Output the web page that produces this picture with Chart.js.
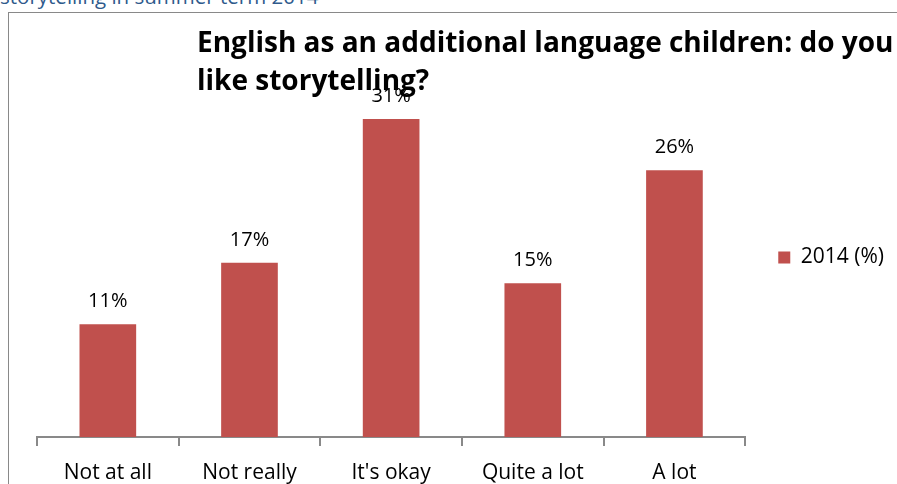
<!DOCTYPE html>
<html>
<head>
<meta charset="utf-8">
<script src="https://cdn.jsdelivr.net/npm/chart.js@4"></script>
<style>
  html, body { margin: 0; padding: 0; background: #fff; overflow: hidden; }
  body { width: 897px; height: 484px; position: relative; }
  #header { position: absolute; left: 0; top: -18px; font: 20.5px "Open Sans", sans-serif; color: #2F5A8C; white-space: nowrap; }
  #frame { position: absolute; left: 8px; top: 12px; width: 1000px; height: 600px; border: 1px solid #898989; }
  #wrap { position: absolute; left: 9px; top: 13px; width: 888px; height: 496px; }
</style>
</head>
<body>
<div id="header">storytelling in summer term 2014</div>
<div id="frame"></div>
<div id="wrap"><canvas id="storyChart"></canvas></div>
<script>
const categories = ['Not at all', 'Not really', "It's okay", 'Quite a lot', 'A lot'];
const values2014 = [11, 17, 31, 15, 26]; // percent
const seriesName = '2014 (%)';
const titleLines = ['English as an additional language children: do you', 'like storytelling?'];

const barColor = '#C0504D';
const textFont = '"Open Sans", sans-serif';

// percentage labels above each bar
const valueLabels = {
    id: 'valueLabels',
    afterDatasetsDraw(chart) {
        const ctx = chart.ctx;
        ctx.save();
        ctx.font = '20px ' + textFont;
        ctx.fillStyle = '#000';
        ctx.textAlign = 'center';
        ctx.textBaseline = 'alphabetic';
        chart.getDatasetMeta(0).data.forEach((bar, i) => {
            ctx.fillText(values2014[i] + '%', bar.x, bar.y - 17);
        });
        ctx.restore();
    }
};

// title drawn left-aligned, it runs off the right edge like the original
const titleText = {
    id: 'titleText',
    afterDraw(chart) {
        const ctx = chart.ctx;
        ctx.save();
        ctx.font = 'bold 28px ' + textFont;
        ctx.fillStyle = '#000';
        ctx.textBaseline = 'alphabetic';
        ctx.fillText(titleLines[0], 188, 39);
        ctx.fillText(titleLines[1], 188, 77);
        ctx.restore();
    }
};

const ctx = document.getElementById('storyChart').getContext('2d');
const storyChart = new Chart(ctx, {
    type: 'bar',
    data: {
        labels: categories,
        datasets: [{
            label: seriesName,
            data: values2014,
            backgroundColor: barColor,
            borderWidth: 0,
            barPercentage: 0.8,
            categoryPercentage: 0.5
        }]
    },
    options: {
        responsive: true,
        maintainAspectRatio: false,
        animation: false,
        layout: {
            padding: { left: 28, right: 3, top: 65, bottom: 2 }
        },
        plugins: {
            legend: {
                position: 'right',
                fullSize: false,
                labels: {
                    boxWidth: 12,
                    boxHeight: 12,
                    padding: 10,
                    color: '#000',
                    font: { family: textFont, size: 21 }
                }
            },
            title: { display: false },
            tooltip: { enabled: false }
        },
        scales: {
            x: {
                grid: {
                    display: true,
                    drawOnChartArea: false,
                    drawTicks: true,
                    tickLength: 9,
                    color: '#898989',
                    lineWidth: 2
                },
                border: { color: '#898989', width: 2 },
                ticks: {
                    color: '#000',
                    padding: 14,
                    font: { family: textFont, size: 21 }
                },
                afterFit(scale) { scale.height = 70; } // keeps the axis line at a fixed place
            },
            y: {
                position: 'right',
                min: 0,
                max: 35,
                grid: { display: false },
                border: { display: false },
                ticks: { display: false },
                afterFit(scale) { scale.width = 23; } // gap before the legend
            }
        }
    },
    plugins: [valueLabels, titleText]
});
</script>
</body>
</html>
